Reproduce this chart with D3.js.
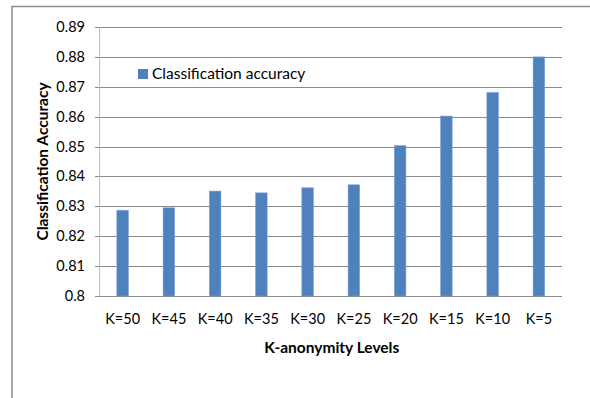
<!DOCTYPE html>
<html><head><meta charset="utf-8">
<script src="https://cdn.jsdelivr.net/npm/d3@7"></script>
<style>
html,body{margin:0;padding:0;background:#fff;}
text{font-family:Lato,"Open Sans",sans-serif;fill:#000;}
</style></head>
<body><svg id="c" width="590" height="398"></svg>
<script>
const categories = ["K=50","K=45","K=40","K=35","K=30","K=25","K=20","K=15","K=10","K=5"];
const accuracy = [0.8287,0.8295,0.8351,0.8345,0.8362,0.8372,0.8503,0.8602,0.8681,0.880];
const yTicks = [0.8,0.81,0.82,0.83,0.84,0.85,0.86,0.87,0.88,0.89];
const seriesName = "Classification accuracy";

const svg = d3.select("#c");
const L = 99.5, R = 562, T = 27, B = 296;

// outer frame
svg.append("path").attr("d","M12,398 L12,6.5 L590,6.5")
  .attr("fill","none").attr("stroke","#8c8c8c").attr("stroke-width",1.5);

const y = d3.scaleLinear().domain([0.8,0.89]).range([B,T]);
const x = d3.scaleBand().domain(categories).range([L,R]).paddingInner(0.75).paddingOuter(0.375);

// gridlines
svg.append("g").selectAll("line").data(yTicks).join("line")
  .attr("x1",L-4.5).attr("x2",R)
  .attr("y1",d=>Math.round(y(d))+0.5).attr("y2",d=>Math.round(y(d))+0.5)
  .attr("stroke","#8a8a8a").attr("stroke-width",1);

// y axis line
svg.append("line").attr("x1",L).attr("x2",L).attr("y1",T).attr("y2",B)
  .attr("stroke","#bdbdbd").attr("stroke-width",1);

// y labels
svg.append("g").selectAll("text").data(yTicks).join("text")
  .attr("x",85).attr("y",d=>y(d)+5).attr("text-anchor","end")
  .attr("font-size",14.5).text(d=>d3.format("")(d));

// bars
svg.append("g").selectAll("rect").data(accuracy).join("rect")
  .attr("x",(d,i)=>x(categories[i])).attr("width",x.bandwidth())
  .attr("y",d=>y(d)).attr("height",d=>B-y(d))
  .attr("fill","#4f81bd").attr("stroke","#7da2d4").attr("stroke-width",0.6);

// x labels
svg.append("g").selectAll("text").data(categories).join("text")
  .attr("x",d=>x(d)+x.bandwidth()/2).attr("y",324).attr("text-anchor","middle")
  .attr("font-size",14.5).text(d=>d);

// axis titles
svg.append("text").attr("x",(L+R)/2+1).attr("y",353).attr("text-anchor","middle")
  .attr("font-size",15.5).attr("font-weight","bold").text("K-anonymity Levels");
svg.append("text").attr("transform",`translate(47.5,${(T+B)/2}) rotate(-90)`)
  .attr("text-anchor","middle").attr("font-size",15.5).attr("font-weight","bold")
  .text("Classification Accuracy");

// legend
const lg = svg.append("g");
lg.append("rect").attr("x",138).attr("y",69).attr("width",10).attr("height",10).attr("fill","#4f81bd");
lg.append("text").attr("x",152).attr("y",79).attr("font-size",15.5).text(seriesName);
</script></body></html>
